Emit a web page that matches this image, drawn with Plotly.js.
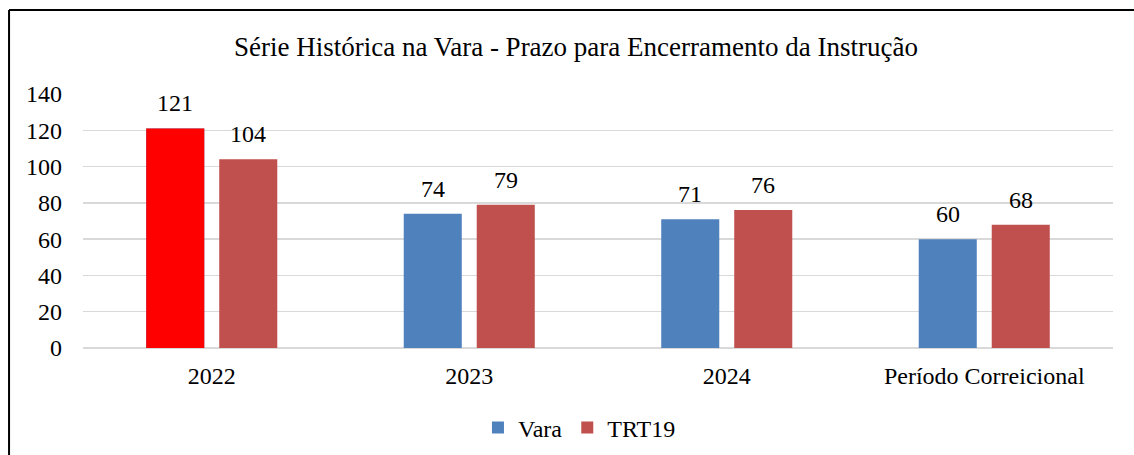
<!DOCTYPE html>
<html>
<head>
<meta charset="utf-8">
<script src="https://cdn.plot.ly/plotly-3.0.1.min.js"></script>
<style>
  html, body { margin: 0; padding: 0; background: #fff; }
  #chart { width: 1134px; height: 455px; }
</style>
</head>
<body>
<div id="chart"></div>
<script>
// categorias e valores
var categorias = ['2022', '2023', '2024', 'Período Correicional'];
var vara = [121, 74, 71, 60];
var trt19 = [104, 79, 76, 68];

var azul = '#4F81BD';
var vermelho = '#C0504D';
var destaque = '#FF0000';

// so um nome de fonte, a lista com virgulas cai no sans
var fonte = 'Liberation Serif';

// barra de 2022 da Vara vai por cima, em vermelho vivo (mesmo offsetgroup)
var varaDestaque = vara.map(function (v, i) { return i === 0 ? v : null; });

var data = [
  {
    type: 'bar', name: 'Vara', x: categorias, y: vara, offsetgroup: 'v',
    marker: {color: azul}, hoverinfo: 'skip'
  },
  {
    type: 'bar', name: 'TRT19', x: categorias, y: trt19, offsetgroup: 't',
    marker: {color: vermelho}, hoverinfo: 'skip'
  },
  {
    type: 'bar', name: 'Vara', x: categorias, y: varaDestaque, offsetgroup: 'v',
    marker: {color: destaque}, showlegend: false, hoverinfo: 'skip'
  }
];

// rótulos de dados acima das barras (x pelo índice da categoria)
var rotulos = [];
categorias.forEach(function (c, i) {
  rotulos.push({x: i, y: vara[i], text: String(vara[i]), showarrow: false,
    xshift: -36.5, yshift: 25, yanchor: 'middle'});
  rotulos.push({x: i, y: trt19[i], text: String(trt19[i]), showarrow: false,
    xshift: 36.5, yshift: 25, yanchor: 'middle'});
});

var layout = {
  width: 1134, height: 455,
  margin: {l: 83, r: 21, t: 94, b: 107, autoexpand: false},
  paper_bgcolor: '#fff', plot_bgcolor: '#fff',
  font: {family: fonte, size: 24, color: '#000'},
  title: {
    text: 'Série Histórica na Vara - Prazo para Encerramento da Instrução',
    font: {family: fonte, size: 27, color: '#000'},
    x: 0.4786, xanchor: 'center', y: 1 - 47 / 455, yanchor: 'middle', xref: 'paper'
  },
  barmode: 'group',
  bargap: 0.433,
  bargroupgap: 0.205,
  showlegend: true,
  legend: {
    orientation: 'h', x: 0.482, xanchor: 'center', y: -0.315, yanchor: 'middle',
    font: {family: fonte, size: 24, color: '#000'}
  },
  xaxis: {
    type: 'category', automargin: false,
    showgrid: false, zeroline: false, showline: false,
    ticks: '', ticklabelstandoff: 11,
    tickfont: {family: fonte, size: 24, color: '#000'}
  },
  yaxis: {
    range: [0, 140], dtick: 20, tick0: 0, automargin: false,
    showgrid: true, gridcolor: '#D9D9D9', gridwidth: 1.5,
    zeroline: true, zerolinecolor: '#D9D9D9', zerolinewidth: 1.5,
    showline: false, ticks: '', ticklabelstandoff: 20,
    tickfont: {family: fonte, size: 24, color: '#000'}
  },
  annotations: rotulos,
  shapes: [
    {type: 'line', xref: 'paper', yref: 'paper', x0: -0.0718, x1: -0.0718, y0: -0.5, y1: 1.3307,
     line: {color: '#000', width: 2}},
    {type: 'line', xref: 'paper', yref: 'paper', x0: -0.0718, x1: 1.1, y0: 1.3307, y1: 1.3307,
     line: {color: '#000', width: 2}}
  ]
};

Plotly.newPlot('chart', data, layout, {displayModeBar: false, staticPlot: true});
</script>
</body>
</html>
